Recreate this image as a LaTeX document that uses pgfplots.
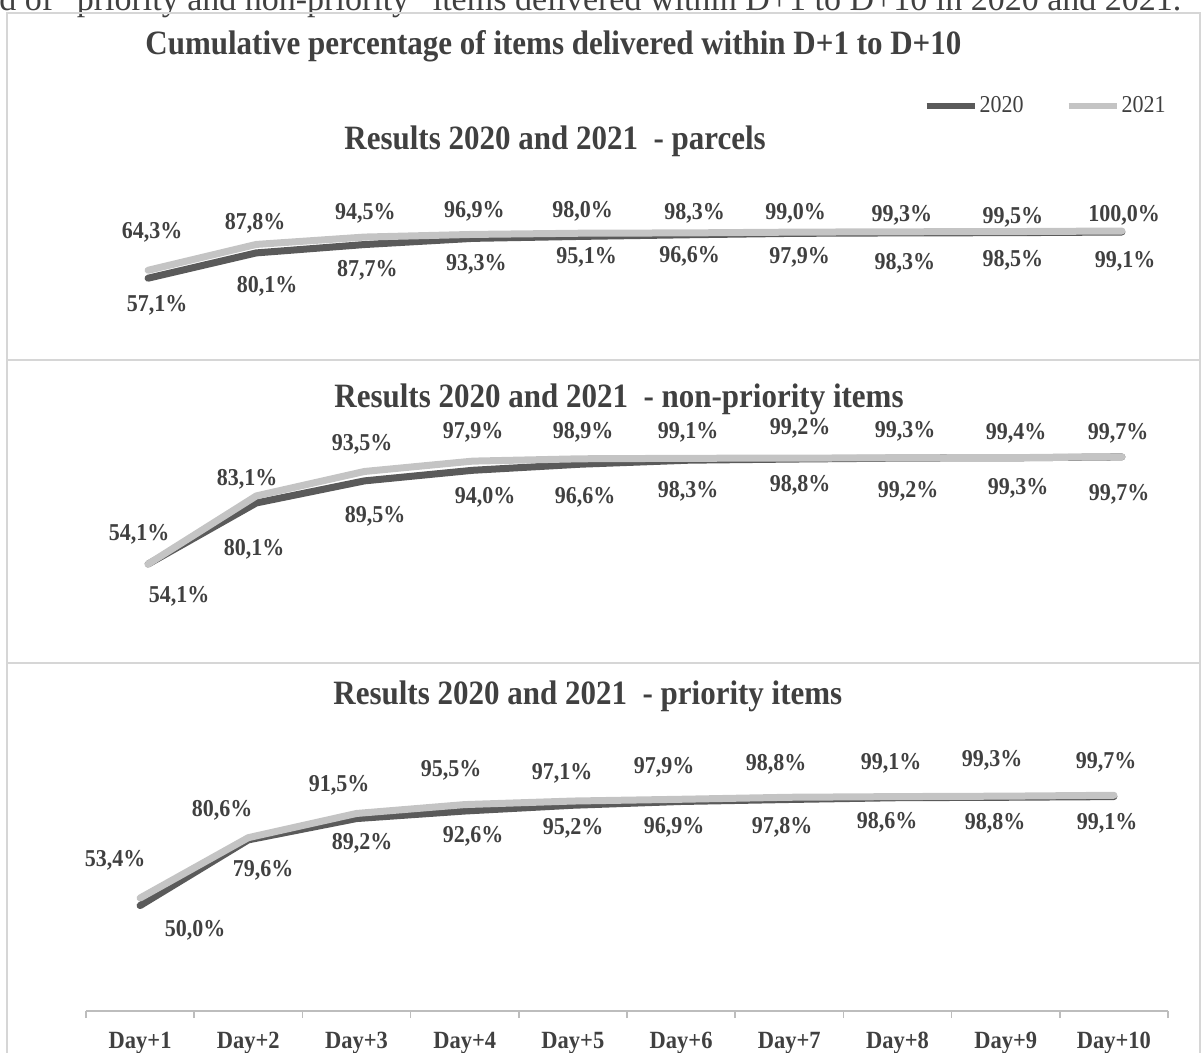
\documentclass[border=0pt]{standalone}
\usepackage{graphicx}
\usepackage{pgfplots}
\pgfplotsset{compat=1.18}
\usepackage{fontspec}
\setmainfont{Liberation Serif}
\definecolor{txt}{HTML}{404040}
\definecolor{cA}{HTML}{5A5A5A}
\definecolor{cB}{HTML}{C4C4C4}
\definecolor{frame}{HTML}{D6D6D6}
\definecolor{axc}{HTML}{BDBDBD}
\newcommand{\V}[1]{\scalebox{1}[1.1]{#1}}
\pgfplotsset{
  panel/.style={scale only axis, width=541pt, xmin=0.5, xmax=10.5, clip=false},
  l20/.style={cA, line width=3.5pt, line join=round, line cap=round, mark=none},
  l21/.style={cB, line width=3.5pt, line join=round, line cap=round, mark=none},
  labs/.style={draw=none, mark=none, forget plot, nodes near coords={\V{\pgfplotspointmeta}},
    point meta=explicit symbolic,
    every node near coord/.append style={anchor=center, inner sep=0pt, text=txt,
      font=\bfseries\fontsize{11}{13}\selectfont}},
}
\begin{document}
\begin{tikzpicture}
\path[use as bounding box] (0,0) rectangle (602pt,-526.5pt);
\clip (0,0) rectangle (602pt,-526.5pt);
% cut-off sentence at the very top
\node[anchor=base west, inner sep=0pt, text=txt, font=\fontsize{17}{20}\selectfont] at (-0.5pt,-5.25pt)
  {d of “priority and non-priority” items delivered within D+1 to D+10 in 2020 and 2021.};
% frame and separators
\draw[frame, line width=1pt] (3.5pt,-6.5pt) rectangle (600pt,-540pt);
\draw[frame, line width=1pt] (3.5pt,-180pt) -- (600pt,-180pt);
\draw[frame, line width=1pt] (3.5pt,-331.5pt) -- (600pt,-331.5pt);
% titles
\node[anchor=west, inner sep=0pt, text=txt, font=\bfseries\fontsize{15.5}{18}\selectfont] at (72.5pt,-23pt)
  {\V{Cumulative percentage of items delivered within D+1 to D+10}};
\node[anchor=west, inner sep=0pt, text=txt, font=\bfseries\fontsize{15.5}{18}\selectfont] at (172pt,-70.75pt)
  {\V{Results 2020 and 2021~~- parcels}};
\node[anchor=west, inner sep=0pt, text=txt, font=\bfseries\fontsize{15.5}{18}\selectfont] at (167pt,-199.5pt)
  {\V{Results 2020 and 2021~~- non-priority items}};
\node[anchor=west, inner sep=0pt, text=txt, font=\bfseries\fontsize{15.5}{18}\selectfont] at (166.5pt,-348pt)
  {\V{Results 2020 and 2021~~- priority items}};

% ---------------- panel 1: parcels ----------------
\begin{axis}[panel, hide axis, at={(47pt,-165pt)}, anchor=south west, height=70pt,
  ymin=10, ymax=137.3,
  legend style={at={(0.9926,1.6)}, anchor=east, draw=none, fill=none, inner sep=0pt,
    legend columns=2, text=txt, font=\fontsize{11}{13}\selectfont,
    nodes={inner sep=1pt}, /tikz/every even column/.append style={column sep=20pt}},
  legend image code/.code={\draw[#1, line width=3pt, line cap=butt] (0pt,0pt) -- (24pt,0pt);}]
\addplot[l20] table {
x y
1 57.1
2 80.1
3 87.7
4 93.3
5 95.1
6 96.6
7 97.9
8 98.3
9 98.5
10 99.1
};
\addlegendentry{\V{2020}}
\addplot[l21] table {
x y
1 64.3
2 87.8
3 94.5
4 96.9
5 98.0
6 98.3
7 99.0
8 99.3
9 99.5
10 100.0
};
\addlegendentry{\V{2021}}
\addplot[labs] table[meta=lab] {
x y lab
1.037 99.1 64,3\%
1.990 107.3 87,8\%
3.007 116.4 94,5\%
4.016 118.2 96,9\%
5.015 118.2 98,0\%
6.051 116.4 98,3\%
6.985 116.4 99,0\%
7.966 114.5 99,3\%
8.993 112.7 99,5\%
10.02 114.5 100,0\%
};
\addplot[labs] table[meta=lab] {
x y lab
1.083 32.7 57,1\%
2.101 50.0 80,1\%
3.026 64.5 87,7\%
4.034 70.0 93,3\%
5.052 76.4 95,1\%
6.005 77.3 96,6\%
7.022 76.4 97,9\%
7.994 70.9 98,3\%
8.993 73.6 98,5\%
10.03 72.7 99,1\%
};
\end{axis}

% ---------------- panel 2: non-priority ----------------
\begin{axis}[panel, hide axis, at={(47pt,-310pt)}, anchor=south west, height=100pt,
  ymin=30.3, ymax=115.4]
\addplot[l20] table {
x y
1 54.1
2 80.1
3 89.5
4 94.0
5 96.6
6 98.3
7 98.8
8 99.2
9 99.3
10 99.7
};
\addplot[l21] table {
x y
1 54.1
2 83.1
3 93.5
4 97.9
5 98.9
6 99.1
7 99.2
8 99.3
9 99.4
10 99.7
};
\addplot[labs] table[meta=lab] {
x y lab
0.917 66.9 54,1\%
1.915 90.3 83,1\%
2.978 105.0 93,5\%
4.004 110.3 97,9\%
5.020 110.3 98,9\%
5.991 110.3 99,1\%
7.026 112.0 99,2\%
7.996 110.7 99,3\%
9.022 109.8 99,4\%
9.965 109.8 99,7\%
};
\addplot[labs] table[meta=lab] {
x y lab
1.287 40.5 54,1\%
1.980 60.5 80,1\%
3.098 74.5 89,5\%
4.115 82.6 94,0\%
5.039 82.6 96,6\%
5.991 85.2 98,3\%
7.026 87.7 98,8\%
8.024 85.2 99,2\%
9.041 86.4 99,3\%
9.974 83.9 99,7\%
};
\end{axis}

% ---------------- panel 3: priority ----------------
\begin{axis}[panel, at={(43pt,-505.5pt)}, anchor=south west, height=135.5pt,
  ymin=2.5, ymax=124.6,
  axis y line=none, axis x line*=bottom,
  x axis line style={draw=axc, line width=1pt, -},
  xtick={1,2,3,4,5,6,7,8,9,10},
  xticklabels={\V{Day+1},\V{Day+2},\V{Day+3},\V{Day+4},\V{Day+5},\V{Day+6},\V{Day+7},\V{Day+8},\V{Day+9},\V{Day+10}},
  minor xtick={0.5,1.5,2.5,3.5,4.5,5.5,6.5,7.5,8.5,9.5,10.5},
  major tick length=0pt, minor tick length=3.5pt, tick align=outside,
  every minor tick/.style={draw=axc, line width=0.8pt},
  xticklabel style={text=txt, font=\bfseries\fontsize{11.25}{13}\selectfont,
    anchor=base, text height=9pt, text depth=3pt, yshift=-18.5pt}]
\addplot[l20] table {
x y
1 50.0
2 79.6
3 89.2
4 92.6
5 95.2
6 96.9
7 97.8
8 98.6
9 98.8
10 99.1
};
\addplot[l21] table {
x y
1 53.4
2 80.6
3 91.5
4 95.5
5 97.1
6 97.9
7 98.8
8 99.1
9 99.3
10 99.7
};
\addplot[labs] table[meta=lab] {
x y lab
0.769 70.5 53,4\%
1.758 93.0 80,6\%
2.839 104.3 91,5\%
3.874 111.1 95,5\%
4.900 109.7 97,1\%
5.843 112.4 97,9\%
6.878 113.8 98,8\%
7.941 114.2 99,1\%
8.874 115.6 99,3\%
9.928 114.7 99,7\%
};
\addplot[labs] table[meta=lab] {
x y lab
1.508 39.0 50,0\%
2.137 66.0 79,6\%
3.052 78.2 89,2\%
4.078 81.3 92,6\%
5.002 84.9 95,2\%
5.935 85.4 96,9\%
6.933 85.4 97,8\%
7.904 87.6 98,6\%
8.902 87.2 98,8\%
9.937 87.2 99,1\%
};
\end{axis}
\end{tikzpicture}
\end{document}
